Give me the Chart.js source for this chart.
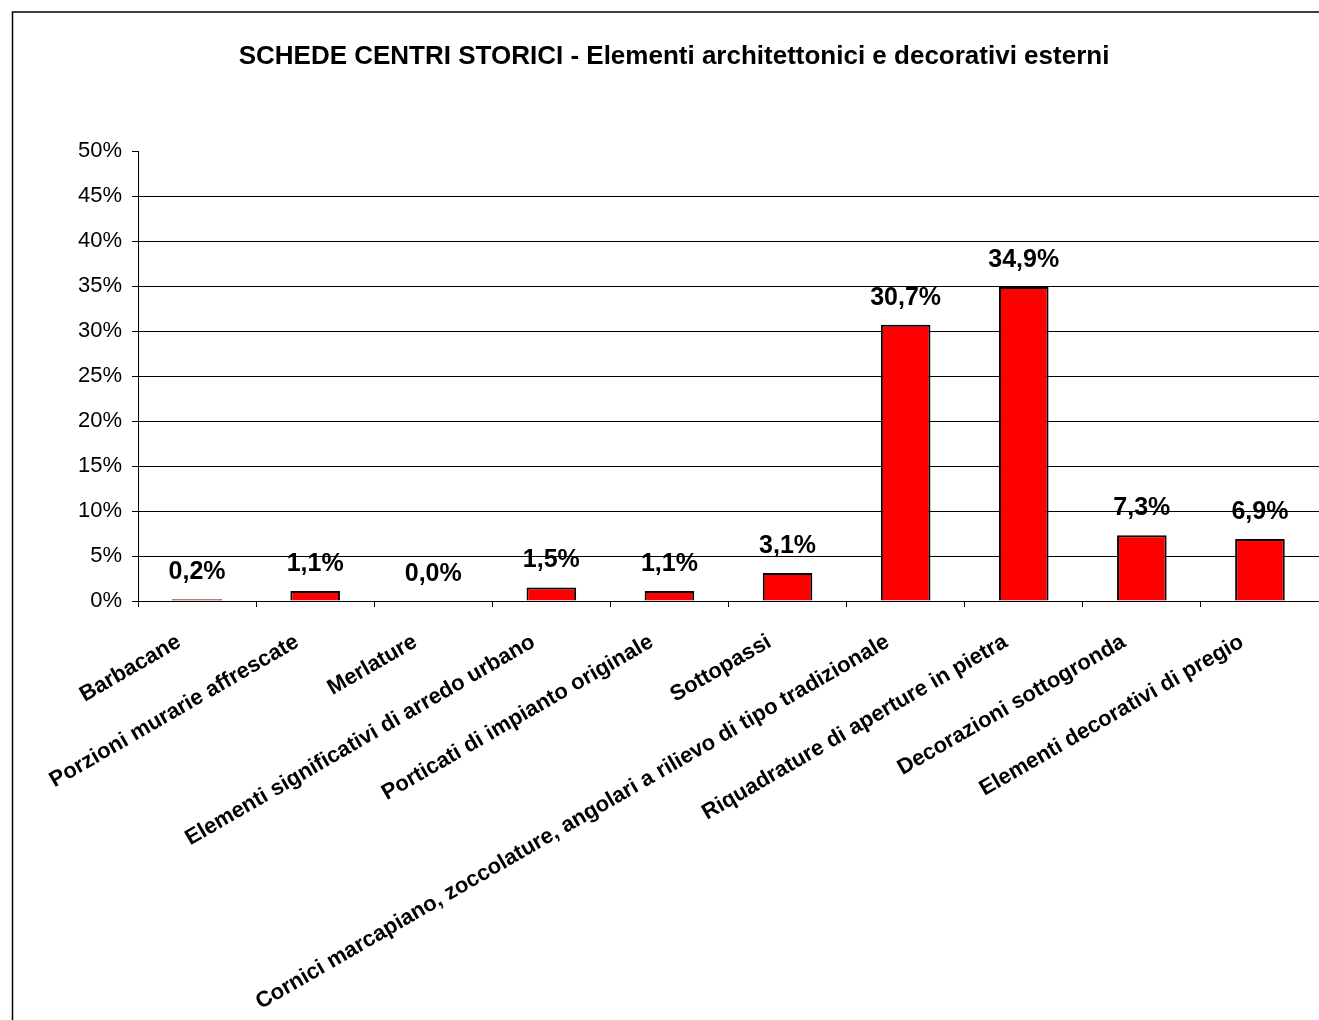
<!DOCTYPE html>
<html>
<head>
<meta charset="utf-8">
<script src="https://cdn.jsdelivr.net/npm/chart.js@4.4.1/dist/chart.umd.min.js"></script>
<style>
  html, body { margin: 0; padding: 0; background: #fff; overflow: hidden; }
  #wrap { width: 1319px; height: 1020px; position: relative; }
</style>
</head>
<body>
<div id="wrap"><canvas id="BarChart"></canvas></div>
<script>
// data
var categories = [
    'Barbacane',
    'Porzioni murarie affrescate',
    'Merlature',
    'Elementi significativi di arredo urbano',
    'Porticati di impianto originale',
    'Sottopassi',
    'Cornici marcapiano, zoccolature, angolari a rilievo di tipo tradizionale',
    'Riquadrature di aperture in pietra',
    'Decorazioni sottogronda',
    'Elementi decorativi di pregio'
];
var percentages = [0.2, 1.1, 0.0, 1.5, 1.1, 3.1, 30.7, 34.9, 7.3, 6.9];
var yTicks = [0, 5, 10, 15, 20, 25, 30, 35, 40, 45, 50];

var FONT = '"Liberation Sans", Arial, sans-serif';

function fmt(v) {
    return v.toFixed(1).replace('.', ',') + '%';
}

// outer frame of the sheet chart
var framePlugin = {
    id: 'frame',
    beforeDraw: function (chart) {
        var c = chart.ctx;
        c.save();
        c.fillStyle = '#fff';
        c.fillRect(0, 0, chart.width, chart.height);
        c.strokeStyle = '#000';
        c.lineWidth = 1.5;
        c.strokeRect(12.5, 12, chart.width + 20, chart.height + 20);
        c.restore();
    }
};

// value labels above each bar
var valueLabels = {
    id: 'valueLabels',
    afterDatasetsDraw: function (chart) {
        var c = chart.ctx;
        var meta = chart.getDatasetMeta(0);
        c.save();
        c.font = 'bold 25px ' + FONT;
        c.fillStyle = '#000';
        c.textAlign = 'center';
        c.textBaseline = 'middle';
        meta.data.forEach(function (bar, i) {
            c.fillText(fmt(percentages[i]), bar.x, bar.y - 27);
        });
        c.restore();
    }
};

var ctx = document.getElementById('BarChart').getContext('2d');
var myChart = new Chart(ctx, {
    type: 'bar',
    data: {
        labels: categories,
        datasets: [{
            label: 'Percentuale',
            data: percentages,
            backgroundColor: '#FF0000',
            borderColor: '#000',
            borderWidth: 2,
            categoryPercentage: 1,
            barPercentage: 0.42
        }]
    },
    options: {
        responsive: true,
        maintainAspectRatio: false,
        animation: false,
        layout: { padding: { left: 29, right: 0, top: 0, bottom: 0 } },
        plugins: {
            legend: { display: false },
            tooltip: { enabled: false },
            title: {
                display: true,
                text: 'SCHEDE CENTRI STORICI - Elementi architettonici e decorativi esterni',
                color: '#000',
                font: { family: FONT, size: 26, weight: 'bold' },
                padding: { top: 41, bottom: 79 }
            }
        },
        scales: {
            x: {
                grid: {
                    offset: true,
                    drawOnChartArea: false,
                    tickLength: 6,
                    tickColor: '#000'
                },
                border: { display: true, color: '#000', width: 1 },
                ticks: {
                    color: '#000',
                    font: { family: FONT, size: 22, weight: 'bold' },
                    minRotation: 30,
                    maxRotation: 30,
                    autoSkip: false,
                    padding: 22,
                    labelOffset: -18
                },
                afterFit: function (scale) { scale.height = 419; }
            },
            y: {
                min: 0,
                max: 50,
                afterBuildTicks: function (scale) {
                    scale.ticks = yTicks.map(function (v) { return { value: v }; });
                },
                grid: {
                    color: function (c) { return c.tick && c.tick.value === 50 ? 'rgba(0,0,0,0)' : '#000'; },
                    tickColor: '#000',
                    tickLength: 6,
                    lineWidth: 1
                },
                border: { display: true, color: '#000', width: 1 },
                ticks: {
                    color: '#000',
                    font: { family: FONT, size: 22 },
                    padding: 10,
                    callback: function (v) { return v + '%'; }
                },
                afterFit: function (scale) { scale.width = 109; }
            }
        }
    },
    plugins: [framePlugin, valueLabels]
});
</script>
</body>
</html>
